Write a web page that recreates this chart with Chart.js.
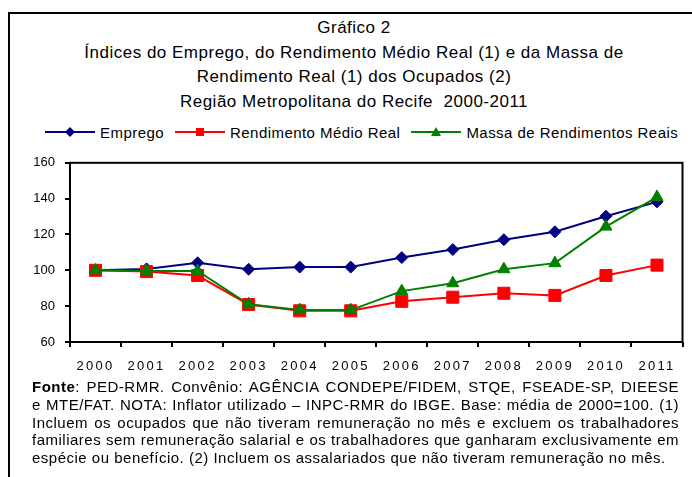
<!DOCTYPE html>
<html lang="pt">
<head>
    <meta charset="UTF-8">
    <title>Gráfico 2</title>
    <script src="https://cdn.jsdelivr.net/npm/chart.js"></script>
    <style>
        body {
            margin: 0;
            width: 692px;
            height: 477px;
            overflow: hidden;
            background: #fff;
            color: #000;
            font-family: 'Liberation Sans', Arial, sans-serif;
            position: relative;
        }
        .frame {
            position: absolute;
            left: 8px;
            top: 12px;
            width: 720px;
            height: 500px;
            border-left: 2px solid #000;
            border-top: 2px solid #000;
        }
        .title {
            position: absolute;
            left: 0;
            top: 16px;
            width: 708px;
            text-align: center;
            font-size: 17px;
            line-height: 24.7px;
            letter-spacing: 0.5px;
        }
        .legend {
            position: absolute;
            left: 45px;
            top: 122px;
            height: 20px;
            display: flex;
            align-items: center;
            font-size: 15px;
            letter-spacing: 0.45px;
            white-space: nowrap;
        }
        .legend .item { display: flex; align-items: center; margin-right: 11px; }
        .legend svg { margin-right: 5px; }
        .chart-box {
            position: absolute;
            left: 0;
            top: 145px;
            width: 692px;
            height: 235px;
        }
        .nota {
            position: absolute;
            left: 32px;
            top: 378px;
            width: 647px;
            font-size: 15px;
            line-height: 17.8px;
            letter-spacing: 0.5px;
            text-align: justify;
        }
    </style>
</head>
<body>
    <div class="frame"></div>
    <div class="title">
        Gráfico 2<br>
        Índices do Emprego, do Rendimento Médio Real (1) e da Massa de<br>
        Rendimento Real (1) dos Ocupados (2)<br>
        Região Metropolitana do Recife&nbsp; 2000-2011
    </div>
    <div class="legend" id="legend"></div>
    <div class="chart-box">
        <canvas id="grafico" width="692" height="235"></canvas>
    </div>
    <div class="nota">
        <b>Fonte</b>: PED-RMR. Convênio: AGÊNCIA CONDEPE/FIDEM, STQE, FSEADE-SP, DIEESE e MTE/FAT. NOTA: Inflator utilizado – INPC-RMR do IBGE. Base: média de 2000=100. (1) Incluem os ocupados que não tiveram remuneração no mês e excluem os trabalhadores familiares sem remuneração salarial e os trabalhadores que ganharam exclusivamente em espécie ou benefício. (2) Incluem os assalariados que não tiveram remuneração no mês.
    </div>

    <script>
        const anos = ['2000', '2001', '2002', '2003', '2004', '2005', '2006', '2007', '2008', '2009', '2010', '2011'];
        const emprego = [100, 100.8, 104.2, 100.6, 101.8, 101.8, 107.1, 111.6, 117.1, 121.5, 130.2, 138.2];
        const rendimentoMedio = [100, 99.3, 97.1, 80.9, 77.4, 77.4, 82.7, 85.0, 87.2, 86.0, 97.1, 102.9];
        const massaRendimentos = [100, 99.6, 99.6, 81.0, 77.8, 77.8, 88.4, 92.8, 100.6, 104.0, 124.4, 140.9];
        const yTicks = [60, 80, 100, 120, 140, 160];

        const fonte = "'Liberation Sans', Arial, sans-serif";

        const series = [
            { nome: 'Emprego', dados: emprego, cor: '#000080', marca: 'rectRot', raio: 6, ordem: 3 },
            { nome: 'Rendimento Médio Real', dados: rendimentoMedio, cor: '#FF0000', marca: 'rect', raio: 8.5, ordem: 2 },
            { nome: 'Massa de Rendimentos Reais', dados: massaRendimentos, cor: '#008000', marca: 'triangle', raio: 7, ordem: 1 }
        ];

        // legenda em HTML: linha com marcador no meio
        const marcas = {
            rectRot: c => `<polygon points="25,1 30,6 25,11 20,6" fill="${c}"/>`,
            rect: c => `<rect x="21" y="2" width="8" height="8" fill="${c}"/>`,
            triangle: c => `<polygon points="25,1 30,10 20,10" fill="${c}"/>`
        };
        document.getElementById('legend').innerHTML = series.map(s =>
            `<div class="item"><svg width="50" height="12"><line x1="0" y1="6" x2="50" y2="6" stroke="${s.cor}" stroke-width="2"/>${marcas[s.marca](s.cor)}</svg>${s.nome}</div>`
        ).join('');

        const molduraPlot = {
            id: 'molduraPlot',
            beforeDatasetsDraw(chart) {
                const { ctx, chartArea: a } = chart;
                ctx.save();
                ctx.strokeStyle = '#000';
                ctx.lineWidth = 2;
                ctx.strokeRect(a.left, a.top, a.right - a.left, a.bottom - a.top);
                ctx.restore();
            }
        };

        new Chart(document.getElementById('grafico'), {
            type: 'line',
            data: {
                labels: anos,
                datasets: series.map(s => ({
                    label: s.nome,
                    data: s.dados,
                    borderColor: s.cor,
                    backgroundColor: s.cor,
                    borderWidth: 2,
                    pointStyle: s.marca,
                    pointRadius: s.raio,
                    pointBorderWidth: 1,
                    pointBackgroundColor: s.cor,
                    pointBorderColor: s.cor,
                    tension: 0,
                    order: s.ordem
                }))
            },
            options: {
                responsive: false,
                animation: false,
                devicePixelRatio: 1,
                layout: { padding: { top: 12, right: 8, left: 0, bottom: 0 } },
                plugins: {
                    legend: { display: false },
                    tooltip: { enabled: false }
                },
                scales: {
                    x: {
                        offset: true,
                        grid: { offset: true, drawOnChartArea: false, drawTicks: true, tickLength: 5, color: '#000', lineWidth: 2 },
                        border: { display: false },
                        ticks: { color: '#000', font: { family: fonte, size: 13 }, padding: 12, maxRotation: 0, autoSkip: false },
                        afterFit(scale) {
                            scale.height = 38;
                            if (!scale._espacado) {
                                const orig = scale.drawLabels.bind(scale);
                                scale.drawLabels = function (area) {
                                    this.ctx.save();
                                    this.ctx.letterSpacing = '2.3px';
                                    orig(area);
                                    this.ctx.restore();
                                };
                                scale._espacado = true;
                            }
                        }
                    },
                    y: {
                        min: 60,
                        max: 160,
                        afterBuildTicks(scale) { scale.ticks = yTicks.map(v => ({ value: v })); },
                        grid: { drawOnChartArea: false, drawTicks: true, tickLength: 5, color: '#000', lineWidth: 2 },
                        border: { display: false },
                        ticks: { color: '#000', font: { family: fonte, size: 13 }, padding: 10 },
                        afterFit(scale) { scale.width = 70; }
                    }
                }
            },
            plugins: [molduraPlot]
        });
    </script>
</body>
</html>
